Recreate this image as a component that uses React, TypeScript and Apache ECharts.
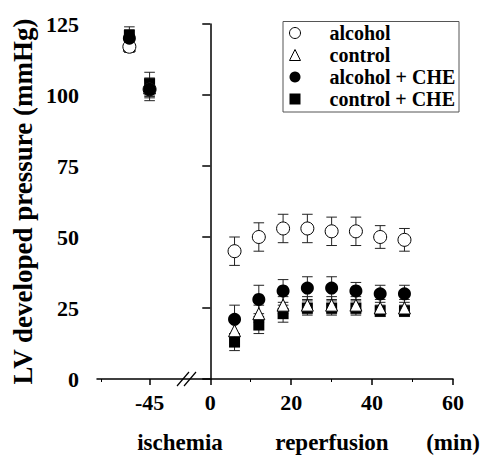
import React, { useEffect, useRef } from "react";
import * as echarts from "echarts";

// x positions: the two pre-ischemia points (-50 and -45 min) sit on a compressed
// segment left of the axis break; reperfusion times are in minutes.
const times = [-20, -15, 6, 12, 18, 24, 30, 36, 42, 48];

const alcohol = [117, 102, 45, 50, 53, 53, 52, 52, 50, 49];
const alcoholErr = [2, 3, 5, 5, 5, 5, 5, 5, 4, 4];
const control = [117.5, 102.5, 17, 23, 26, 26, 26, 26, 25, 25];
const controlErr = [2, 3, 3, 3, 3, 3, 3, 3, 3, 3];
const alcoholChe = [120, 102, 21, 28, 31, 32, 32, 31, 30, 30];
const alcoholCheErr = [3, 4, 5, 5, 4, 4, 4, 3, 3, 3];
const controlChe = [121, 104, 13, 19, 23, 25, 25, 25, 24, 24];
const controlCheErr = [3, 4, 3, 3, 3, 2.5, 2.5, 2.5, 2, 2];

const xTickValues = [-15, 0, 20, 40, 60];
const xTickLabels = ["-45", "0", "20", "40", "60"];
const xMinorTickValues = [-27, 10, 30, 50];

const seriesNames = ["alcohol", "control", "alcohol + CHE", "control + CHE"];

const FONT = "'Liberation Serif', serif";

function pts(v: number[]) {
  return times.map((t, i) => [t, v[i]]);
}
function errs(v: number[], e: number[]) {
  return times.map((t, i) => [t, v[i] - e[i], v[i] + e[i]]);
}

function errorSeries(v: number[], e: number[]) {
  return {
    type: "custom",
    z: 1,
    silent: true,
    data: errs(v, e),
    encode: { x: 0, y: [1, 2] },
    renderItem: (params: any, api: any) => {
      const x = api.value(0);
      const lo = api.coord([x, api.value(1)]);
      const hi = api.coord([x, api.value(2)]);
      const w = 5.3;
      const st = { stroke: "#222", lineWidth: 1 };
      return {
        type: "group",
        children: [
          { type: "line", shape: { x1: hi[0], y1: hi[1], x2: lo[0], y2: lo[1] }, style: st },
          { type: "line", shape: { x1: hi[0] - w, y1: hi[1], x2: hi[0] + w, y2: hi[1] }, style: st },
          { type: "line", shape: { x1: lo[0] - w, y1: lo[1], x2: lo[0] + w, y2: lo[1] }, style: st },
        ],
      };
    },
  };
}

export default function App() {
  const ref = useRef<HTMLDivElement>(null);
  useEffect(() => {
    if (!ref.current) return;
    const chart = echarts.init(ref.current, null, { renderer: "svg" });
    const open = { color: "#fff", borderColor: "#000", borderWidth: 1, opacity: 1 };
    const filled = { color: "#000", borderColor: "#000", borderWidth: 0, opacity: 1 };
    chart.setOption({
      animation: false,
      textStyle: { fontFamily: FONT },
      grid: { left: 97, right: 29, top: 24, bottom: 76 },
      xAxis: [
        {
          type: "value",
          min: -28,
          max: 60,
          axisLine: { show: true, onZero: false, lineStyle: { color: "#000", width: 1.5 } },
          axisTick: {
            show: true,
            inside: false,
            length: 6,
            customValues: xTickValues,
            lineStyle: { color: "#000", width: 1.5 },
          },
          axisLabel: {
            customValues: xTickValues,
            formatter: (v: number) => xTickLabels[xTickValues.indexOf(v)] ?? "",
            fontFamily: FONT,
            fontWeight: "bold",
            fontSize: 22,
            color: "#000",
            margin: 12,
          },
          splitLine: { show: false },
        },
        {
          type: "value",
          position: "bottom",
          min: -28,
          max: 60,
          axisLine: { show: false },
          axisTick: {
            show: true,
            inside: false,
            length: 3,
            customValues: xMinorTickValues,
            lineStyle: { color: "#000", width: 1 },
          },
          axisLabel: { show: false },
          splitLine: { show: false },
        },
      ],
      yAxis: {
        type: "value",
        min: 0,
        max: 125,
        interval: 25,
        axisLine: { show: true, lineStyle: { color: "#000", width: 1.5 } },
        axisTick: { show: true, inside: false, length: 8, lineStyle: { color: "#000", width: 1.5 } },
        axisLabel: {
          fontFamily: FONT,
          fontWeight: "bold",
          fontSize: 22,
          color: "#000",
          margin: 18,
        },
        splitLine: { show: false },
      },
      legend: {
        orient: "vertical",
        left: 289,
        top: 23,
        padding: 0,
        itemWidth: 11,
        itemHeight: 11,
        itemGap: 2,
        textStyle: {
          fontFamily: FONT,
          fontWeight: "bold",
          fontSize: 20,
          color: "#000",
          padding: [0, 0, 0, 24],
        },
        data: [
          { name: seriesNames[0], icon: "circle", itemStyle: open },
          { name: seriesNames[1], icon: "triangle", itemStyle: open },
          { name: seriesNames[2], icon: "circle", itemStyle: filled },
          { name: seriesNames[3], icon: "rect", itemStyle: filled },
        ],
      },
      graphic: [
        {
          type: "rect",
          shape: { x: 283, y: 21.5, width: 176, height: 90.5 },
          style: { fill: "none", stroke: "#555", lineWidth: 1 },
          z: 0,
        },
        {
          type: "line",
          shape: { x1: 177, y1: 386, x2: 189, y2: 372 },
          style: { stroke: "#000", lineWidth: 1.2 },
        },
        {
          type: "line",
          shape: { x1: 184, y1: 386, x2: 196, y2: 372 },
          style: { stroke: "#000", lineWidth: 1.2 },
        },
        {
          type: "text",
          x: 23,
          y: 201.5,
          rotation: Math.PI / 2,
          style: {
            text: "LV developed pressure (mmHg)",
            fontFamily: FONT,
            fontWeight: "bold",
            fontSize: 27,
            fill: "#000",
            align: "center",
            verticalAlign: "middle",
          },
        },
        {
          type: "text",
          x: 180,
          y: 442,
          style: { text: "ischemia", fontFamily: FONT, fontWeight: "bold", fontSize: 23, fill: "#000", align: "center", verticalAlign: "middle" },
        },
        {
          type: "text",
          x: 332,
          y: 442,
          style: { text: "reperfusion", fontFamily: FONT, fontWeight: "bold", fontSize: 23, fill: "#000", align: "center", verticalAlign: "middle" },
        },
        {
          type: "text",
          x: 453,
          y: 442,
          style: { text: "(min)", fontFamily: FONT, fontWeight: "bold", fontSize: 23, fill: "#000", align: "center", verticalAlign: "middle" },
        },
      ],
      series: [
        errorSeries(alcohol, alcoholErr),
        errorSeries(control, controlErr),
        errorSeries(alcoholChe, alcoholCheErr),
        errorSeries(controlChe, controlCheErr),
        {
          name: seriesNames[3],
          type: "scatter",
          z: 3,
          symbol: "rect",
          symbolSize: 11,
          itemStyle: filled,
          data: pts(controlChe),
        },
        {
          name: seriesNames[1],
          type: "scatter",
          z: 4,
          symbol: "triangle",
          symbolSize: 12,
          itemStyle: open,
          data: pts(control),
        },
        {
          name: seriesNames[0],
          type: "scatter",
          z: 5,
          symbol: "circle",
          symbolSize: 13,
          itemStyle: open,
          data: pts(alcohol),
        },
        {
          name: seriesNames[2],
          type: "scatter",
          z: 6,
          symbol: "circle",
          symbolSize: 13,
          itemStyle: filled,
          data: pts(alcoholChe),
        },
      ],
    });
    return () => chart.dispose();
  }, []);
  return (
    <div
      ref={ref}
      style={{ position: "fixed", left: 0, top: 0, width: 482, height: 455, background: "#fff" }}
    />
  );
}
